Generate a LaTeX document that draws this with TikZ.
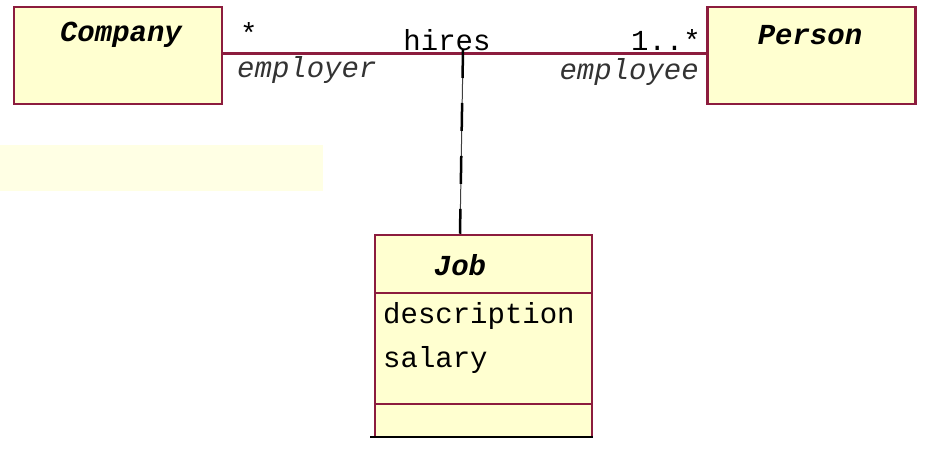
\documentclass[tikz,border=0pt]{standalone}
\usepackage{fontspec}
\setmonofont{Liberation Mono}
\usepackage{tikz}
\usetikzlibrary{positioning}
\definecolor{umlred}{RGB}{140,28,62}
\definecolor{umlfill}{RGB}{255,255,208}
\definecolor{umlpale}{RGB}{255,255,228}
\tikzset{classbox/.style={draw=umlred, line width=2.5pt, fill=umlfill,
    minimum width=208pt, minimum height=97pt, inner sep=0pt},
  classname/.style={font=\ttfamily\bfseries\itshape\fontsize{29}{32}\selectfont, inner sep=0pt},
  attr/.style={font=\ttfamily\fontsize{29}{32}\selectfont, inner sep=0pt},
  role/.style={font=\ttfamily\itshape\fontsize{29}{32}\selectfont, text=black!80, inner sep=0pt}}

\begin{document}
\begin{tikzpicture}[x=1pt,y=-1pt]

  \useasboundingbox (0,0) rectangle (932,454);

  \fill [umlpale] (0,145) rectangle (323,191);

  \node [classbox] (company) at (118,55.5) {};
  \node [classbox] (person) at (811.5,55.5) {};
  \node [classbox, minimum width=217pt, minimum height=202pt] (job) at (483.5,336) {};

  \node [classname] (companyname) at (121,35) {Company};
  \node [classname] (personname) at (810,35) {Person};
  \node [classname] (jobname) at (460,265) {Job};

  % association
  \draw [umlred, line width=3pt] (company.east |- 0,54) -- (person.west |- 0,54);
  \coordinate (hub) at (463,54);

  \node [attr, anchor=west] (many) at (240,33) {*};
  \node [attr] (hires) at (447,40) {hires};
  \node [attr, anchor=east] (mult) at (701,40) {1..*};
  \node [role, anchor=west] (employer) at (237,70) {employer};
  \node [role, anchor=east] (employee) at (699,72) {employee};

  % association class link
  \draw [black!75, line width=1pt] (hub) -- ([xshift=-23.5pt]job.north);
  \draw [black, line width=2.5pt, dash pattern=on 28pt off 25pt]
    ([yshift=4pt]hub) -- ([xshift=-23.5pt]job.north);

  % compartments
  \draw [umlred, line width=2.5pt] (job.west |- 0,293) -- (job.east |- 0,293);
  \draw [umlred, line width=2.5pt] (job.west |- 0,404) -- (job.east |- 0,404);
  \node [attr, anchor=west] (desc) at (383,316) {description};
  \node [attr, anchor=west] (salary) at (383,360) {salary};

  \draw [black, line width=2pt] (370,437) -- (593,437);

\end{tikzpicture}
\end{document}
